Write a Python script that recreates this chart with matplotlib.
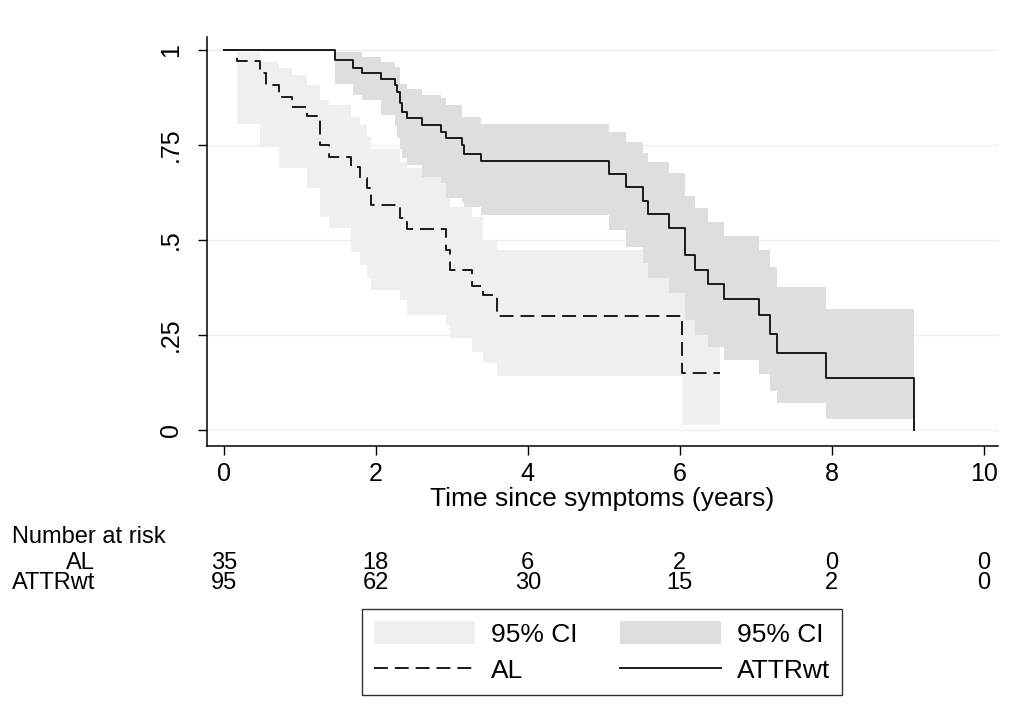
import matplotlib
matplotlib.use('Agg')
import matplotlib.pyplot as plt
from matplotlib.lines import Line2D
from matplotlib.patches import Patch
from matplotlib.transforms import blended_transform_factory

plt.rcParams['font.family'] = ['Liberation Sans', 'DejaVu Sans']
plt.rcParams['lines.scale_dashes'] = False

# Kaplan-Meier estimates (years since symptom onset)
al_time = [0, 0.17, 0.47, 0.55, 0.73, 0.90, 1.10, 1.27, 1.39, 1.68, 1.79, 1.88,
           1.94, 2.32, 2.41, 2.93, 2.98, 3.26, 3.41, 3.59, 6.03]
al_surv = [1.0, 0.971, 0.939, 0.908, 0.877, 0.851, 0.826, 0.750, 0.719, 0.693,
           0.664, 0.636, 0.592, 0.557, 0.528, 0.474, 0.421, 0.379, 0.355, 0.300, 0.150]
al_end = 6.53
# 95% CI, one value per interval starting at al_time[1:]
al_lo = [0.807, 0.746, 0.746, 0.689, 0.689, 0.636, 0.561, 0.531, 0.469, 0.434,
         0.400, 0.368, 0.342, 0.303, 0.276, 0.242, 0.206, 0.176, 0.142, 0.013]
al_hi = [0.996, 0.969, 0.969, 0.952, 0.934, 0.908, 0.868, 0.855, 0.824, 0.803,
         0.772, 0.741, 0.706, 0.690, 0.620, 0.588, 0.561, 0.500, 0.474, 0.400]

attr_time = [0, 1.46, 1.70, 1.82, 2.07, 2.25, 2.28, 2.32, 2.34, 2.41, 2.61, 2.86,
             2.93, 3.14, 3.16, 3.39, 5.07, 5.29, 5.52, 5.58, 5.86, 6.07, 6.20,
             6.37, 6.58, 7.04, 7.19, 7.28, 7.92]
attr_surv = [1.0, 0.974, 0.954, 0.941, 0.924, 0.908, 0.890, 0.860, 0.838, 0.822,
             0.804, 0.785, 0.768, 0.750, 0.726, 0.708, 0.674, 0.640, 0.603, 0.568,
             0.532, 0.460, 0.421, 0.384, 0.345, 0.303, 0.253, 0.202, 0.136]
attr_end = 9.08
attr_lo = [0.912, 0.882, 0.868, 0.829, 0.800, 0.770, 0.740, 0.715, 0.697, 0.667,
           0.650, 0.610, 0.600, 0.588, 0.566, 0.526, 0.482, 0.440, 0.399, 0.361,
           0.289, 0.250, 0.219, 0.184, 0.147, 0.103, 0.070, 0.028]
attr_hi = [0.994, 0.994, 0.982, 0.969, 0.956, 0.956, 0.912, 0.912, 0.899, 0.882,
           0.874, 0.855, 0.824, 0.824, 0.807, 0.785, 0.759, 0.730, 0.706, 0.676,
           0.616, 0.584, 0.548, 0.511, 0.474, 0.428, 0.377, 0.318]

risk_times = [0, 2, 4, 6, 8, 10]
al_risk = [35, 18, 6, 2, 0, 0]
attr_risk = [95, 62, 30, 15, 2, 0]
groups = ['AL', 'ATTRwt']

y_ticks = [0, 0.25, 0.5, 0.75, 1]
y_labels = ['0', '.25', '.5', '.75', '1']

light = '#efefef'
dark = '#dedede'
ink = '#1a1a1a'
dash = (0, (10, 5))
fs = 18

fig = plt.figure(figsize=(10.2, 7.17), dpi=100)
ax = fig.add_axes([0.203, 0.378, 0.775, 0.570])

# confidence bands
ax.fill_between(al_time[1:] + [al_end], al_lo + [al_lo[-1]], al_hi + [al_hi[-1]],
                step='post', color=light, lw=0, zorder=1)
ax.fill_between(attr_time[1:] + [attr_end], attr_lo + [attr_lo[-1]], attr_hi + [attr_hi[-1]],
                step='post', color=dark, lw=0, zorder=2)

# survival curves
ax.step(al_time + [al_end], al_surv + [al_surv[-1]], where='post', color=ink,
        lw=1.4, linestyle=dash, zorder=3)
ax.step(attr_time + [attr_end], attr_surv + [0.0], where='post', color=ink,
        lw=1.4, zorder=4)

ax.set_xlim(-0.22, 10.18)
ax.set_ylim(-0.042, 1.034)
ax.set_xticks(risk_times)
ax.set_yticks(y_ticks)
ax.set_yticklabels(y_labels, rotation=90, va='center')
ax.grid(axis='y', color='#e9f1f2', lw=1, zorder=0)
ax.set_axisbelow(True)
for s in ['top', 'right']:
    ax.spines[s].set_visible(False)
for s in ['left', 'bottom']:
    ax.spines[s].set_linewidth(1.1)
ax.tick_params(axis='both', direction='out', length=6.5, width=1, labelsize=fs)
ax.tick_params(axis='y', pad=11)
ax.tick_params(axis='x', pad=5)
ax.set_xlabel('Time since symptoms (years)', fontsize=19, labelpad=1)

# number at risk table, one text block per column
tfs = 17
tr = blended_transform_factory(ax.transData, fig.transFigure)
row_y = 1 - 573 / 717
fig.text(12 / 1020, 1 - 537 / 717, 'Number at risk', fontsize=tfs, va='center', ha='left')
fig.text(95 / 1020, row_y, '\n'.join(groups), fontsize=tfs, va='center', ha='right',
         multialignment='right', linespacing=0.85)
for t, a, b in zip(risk_times, al_risk, attr_risk):
    ax.text(t, row_y, f'{a}\n{b}', transform=tr, fontsize=tfs, va='center',
            ha='center', multialignment='center', linespacing=0.85)

handles = [Patch(facecolor=light, edgecolor='none'),
           Line2D([], [], color=ink, lw=1.4, linestyle=dash),
           Patch(facecolor=dark, edgecolor='none'),
           Line2D([], [], color=ink, lw=1.4)]
labels = ['95% CI', groups[0], '95% CI', groups[1]]
leg = fig.legend(handles, labels, ncol=2, loc='center',
                 bbox_to_anchor=(602 / 1020, 1 - 652 / 717), fontsize=19,
                 frameon=True, fancybox=False, edgecolor='black',
                 handlelength=3.85, handleheight=1.0, handletextpad=0.6,
                 columnspacing=1.6, labelspacing=0.4, borderpad=0.45)
leg.get_frame().set_linewidth(1.0)

fig.savefig('out.png', dpi=100, facecolor='white')
